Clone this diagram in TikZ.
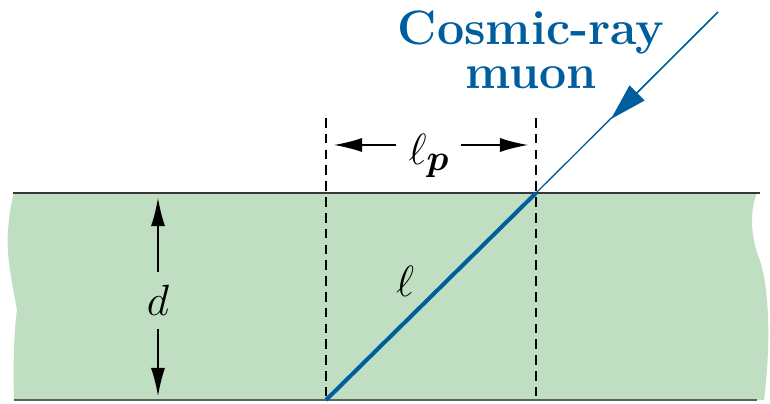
\documentclass[tikz,border=0pt]{standalone}
\usepackage{amsmath}
\usepackage{bm}
\usetikzlibrary{arrows.meta}
\definecolor{slabgreen}{RGB}{192,223,194}
\definecolor{muonblue}{RGB}{0,94,158}
\definecolor{edgegray}{RGB}{55,55,55}

\begin{document}
\begin{tikzpicture}[x=0.02cm,y=-0.02cm,line cap=butt,line join=round,
  dimarrow/.style={-{Latex[length=16pt,width=8pt]},black,line width=0.7pt},
  guide/.style={black,line width=0.7pt,dash pattern=on 5.5pt off 3.5pt}]
\useasboundingbox (0,0) rectangle (770,403);
% slab of material
\fill[slabgreen] (14,193) -- (757,193) .. controls (751,206) and (749,232) .. (759,258)
  .. controls (768,282) and (772,335) .. (764,400) -- (14,400)
  .. controls (13,362) and (14,332) .. (17,310) .. controls (12,282) and (6,255) .. (8,232)
  .. controls (9,212) and (12,200) .. (14,193) -- cycle;
\coordinate (tl) at (13,193);
\coordinate (tr) at (760,193);
\coordinate (bl) at (14,400);
\coordinate (br) at (757,400);
\draw[edgegray,line width=1.2pt] (tl) -- (tr);
\draw[edgegray!80,line width=1.2pt] (bl) -- (br);
% projected length
\coordinate (g1top) at (326,118);
\coordinate (g1bot) at (326,401);
\coordinate (g2top) at (536,118);
\coordinate (g2bot) at (536,401);
\draw[guide] (g1top) -- (g1bot);
\draw[guide] (g2top) -- (g2bot);
\node[font=\fontsize{31}{33}\selectfont,inner sep=0pt] (lp) at (429,156) {$\ell_{\bm{p}}$};
\coordinate (lpa) at (396,145);
\coordinate (lpb) at (461,145);
\coordinate (lpleft) at (334,145);
\coordinate (lpright) at (528,145);
\draw[dimarrow] (lpa) -- (lpleft);
\draw[dimarrow] (lpb) -- (lpright);
% thickness
\node[font=\fontsize{41}{43}\selectfont,inner sep=0pt] (d) at (158,300) {$d$};
\coordinate (dtop) at (158,198);
\coordinate (dbot) at (158,396);
\draw[dimarrow] (d.north |- 0,272) -- (dtop);
\draw[dimarrow] (d.south |- 0,329) -- (dbot);
% muon track
\coordinate (src) at (718,12);
\coordinate (entry) at (536,193);
\coordinate (exit) at (326,400);
\coordinate (tip) at (611,119);
\draw[muonblue,line width=0.75pt] (src) -- (entry);
\draw[-{Triangle[length=21pt,width=12pt]},muonblue,line width=0.75pt] (src) -- (tip);
\draw[muonblue,line width=2.3pt] (entry) -- (exit);
\node[font=\fontsize{28}{29}\selectfont] (ell) at (405,281) {$\ell$};
\node[font=\fontsize{27.5}{26}\selectfont\bfseries,text=muonblue,align=center] (lbl) at (531,50)
  {Cosmic-ray\\[-1pt]muon};
\end{tikzpicture}
\end{document}
